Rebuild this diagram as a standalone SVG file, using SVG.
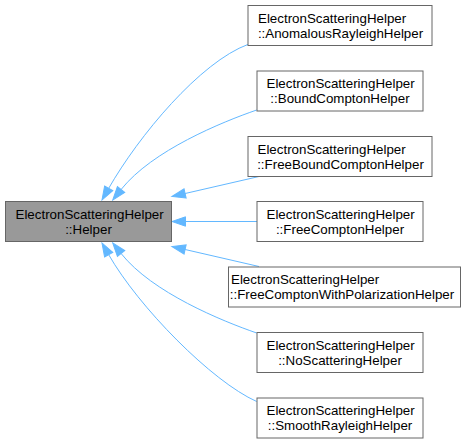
<svg xmlns="http://www.w3.org/2000/svg" width="466" height="443" viewBox="0 0 466 443">
<style>
.node rect{fill:#ffffff;stroke:#666666;stroke-width:1}
#n0 rect{fill:#999999}
text{font-family:"Liberation Sans",Arial,Helvetica,sans-serif;font-size:13.33px;fill:#000000}
.c{text-anchor:middle}
.edges path{fill:none;stroke:#63b8ff;stroke-width:1;marker-end:url(#arr)}
</style>
<defs>
<marker id="arr" markerUnits="userSpaceOnUse" markerWidth="16" markerHeight="12" refX="0" refY="4.7" orient="auto" overflow="visible">
<path d="M0,0 L13.5,4.7 L0,9.4 z" fill="#63b8ff" stroke="#63b8ff" stroke-width="1"/>
</marker>
</defs>
<rect width="466" height="443" fill="#ffffff"/>
<g class="edges" id="edges">
<path d="M248.3,44.3 C200,62 138.5,136.2 108.7,188.3"/>
<path d="M256.7,110 C222,122 152,150.5 121.1,189.5"/>
<path d="M259,176.5 L185.1,193.5"/>
<path d="M257,221.5 L185.5,221.5"/>
<path d="M259,266.5 L185.1,249.5"/>
<path d="M256.7,333 C222,321 152,292.5 121.1,253.5"/>
<path d="M256.7,401.5 C211.7,381.5 138.5,306.8 108.7,254.7"/>
</g>
<g class="node" id="n0">
<rect x="5.5" y="201.5" width="166" height="40"/>
<text x="15.5" y="218.5">ElectronScatteringHelper</text>
<text class="c" x="88.5" y="233.5">::Helper</text>
</g>
<g class="node" id="n1">
<rect x="248" y="5.5" width="184" height="40"/>
<text x="258" y="22.5">ElectronScatteringHelper</text>
<text class="c" x="340.5" y="37.5">::AnomalousRayleighHelper</text>
</g>
<g class="node" id="n2">
<rect x="257" y="71" width="166" height="40"/>
<text x="266.5" y="88">ElectronScatteringHelper</text>
<text class="c" x="340" y="103">::BoundComptonHelper</text>
</g>
<g class="node" id="n3">
<rect x="248" y="136.5" width="184" height="40"/>
<text x="257.5" y="153.5">ElectronScatteringHelper</text>
<text class="c" x="340.5" y="168.5">::FreeBoundComptonHelper</text>
</g>
<g class="node" id="n4">
<rect x="257" y="201.5" width="166" height="40"/>
<text x="266.5" y="218.5">ElectronScatteringHelper</text>
<text class="c" x="340" y="233.5">::FreeComptonHelper</text>
</g>
<g class="node" id="n5">
<rect x="228.5" y="267" width="232" height="40"/>
<text x="231" y="284">ElectronScatteringHelper</text>
<text class="c" x="342" y="299">::FreeComptonWithPolarizationHelper</text>
</g>
<g class="node" id="n6">
<rect x="257" y="332.5" width="166" height="40"/>
<text x="266.5" y="349.5">ElectronScatteringHelper</text>
<text class="c" x="340" y="364.5">::NoScatteringHelper</text>
</g>
<g class="node" id="n7">
<rect x="257" y="398" width="166" height="40"/>
<text x="266.5" y="415">ElectronScatteringHelper</text>
<text class="c" x="340" y="430">::SmoothRayleighHelper</text>
</g>
</svg>
